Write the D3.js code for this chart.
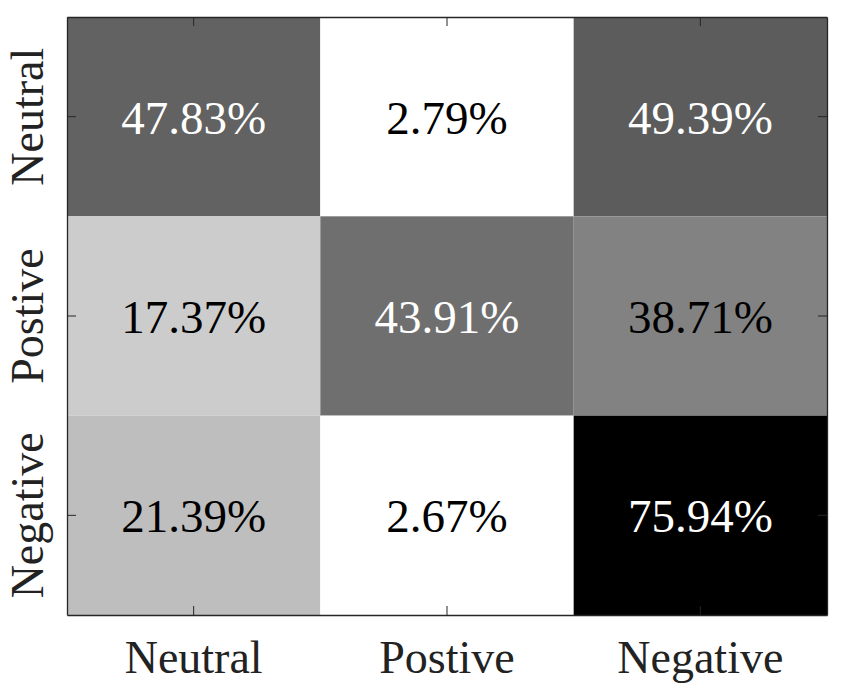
<!DOCTYPE html>
<html>
<head>
<meta charset="utf-8">
<script src="https://cdn.jsdelivr.net/npm/d3@7"></script>
<style>
  body { margin: 0; background: #fff; }
  svg { display: block; }
</style>
</head>
<body>
<script>
"use strict";

// data
var labels = ["Neutral", "Postive", "Negative"];
var rowNeutral  = [47.83, 2.79, 49.39];
var rowPostive  = [17.37, 43.91, 38.71];
var rowNegative = [21.39, 2.67, 75.94];
var matrix = [rowNeutral, rowPostive, rowNegative];

var W = 854, H = 692;
var margin = {top: 17, right: 27, bottom: 77, left: 67};
var w = W - margin.left - margin.right;
var h = H - margin.top - margin.bottom;
var font = "'Liberation Serif', 'Times New Roman', serif";
var axisColor = "#262626";

var cells = [];
matrix.forEach(function(row, i) {
    row.forEach(function(v, j) {
        cells.push({row: labels[i], col: labels[j], value: v});
    });
});

var vmin = d3.min(cells, function(d) { return d.value; });
var vmax = d3.max(cells, function(d) { return d.value; });
var color = d3.scaleLinear().domain([vmin, vmax]).range(["#ffffff", "#000000"]);

var x = d3.scaleBand().domain(labels).range([0, w]);
var y = d3.scaleBand().domain(labels).range([0, h]);

var svg = d3.select("body").append("svg")
    .attr("width", W).attr("height", H);
var g = svg.append("g")
    .attr("transform", "translate(" + margin.left + "," + margin.top + ")");

g.selectAll("rect.cell")
    .data(cells)
    .enter()
    .append("rect")
    .attr("class", "cell")
    .attr("x", function(d) { return x(d.col); })
    .attr("y", function(d) { return y(d.row); })
    .attr("width", x.bandwidth())
    .attr("height", y.bandwidth())
    .attr("fill", function(d) { return color(d.value); });

g.selectAll("text.val")
    .data(cells)
    .enter()
    .append("text")
    .attr("class", "val")
    .attr("x", function(d) { return x(d.col) + x.bandwidth() / 2; })
    .attr("y", function(d) { return y(d.row) + y.bandwidth() / 2 + 17; })
    .attr("text-anchor", "middle")
    .style("font-family", font)
    .style("font-size", "47px")
    .attr("fill", function(d) { return d.value > (vmin + vmax) / 2 ? "#ffffff" : "#000000"; })
    .text(function(d) { return d.value.toFixed(2) + "%"; });

// axes (ticks inward, box around)
var axBottom = g.append("g")
    .attr("transform", "translate(0," + h + ")")
    .call(d3.axisBottom(x).tickSizeInner(-9).tickSizeOuter(0).tickPadding(25));
var axTop = g.append("g")
    .call(d3.axisTop(x).tickSizeInner(-9).tickSizeOuter(0).tickFormat(""));
var axLeft = g.append("g")
    .call(d3.axisLeft(y).tickSizeInner(-9).tickSizeOuter(0));
var axRight = g.append("g")
    .attr("transform", "translate(" + w + ",0)")
    .call(d3.axisRight(y).tickSizeInner(-9).tickSizeOuter(0).tickFormat(""));

[axBottom, axTop, axLeft, axRight].forEach(function(a) {
    a.select(".domain").attr("stroke", axisColor).attr("stroke-width", 1.3);
    a.selectAll(".tick line").attr("stroke", axisColor).attr("stroke-width", 1);
});

axBottom.selectAll("text")
    .attr("fill", "#222")
    .style("font-family", font)
    .style("font-size", "46px");

axLeft.selectAll("text")
    .attr("transform", "rotate(-90)")
    .attr("x", 0)
    .attr("y", -24)
    .attr("dy", 0)
    .attr("text-anchor", "middle")
    .attr("fill", "#222")
    .style("font-family", font)
    .style("font-size", "46px");
</script>
</body>
</html>
